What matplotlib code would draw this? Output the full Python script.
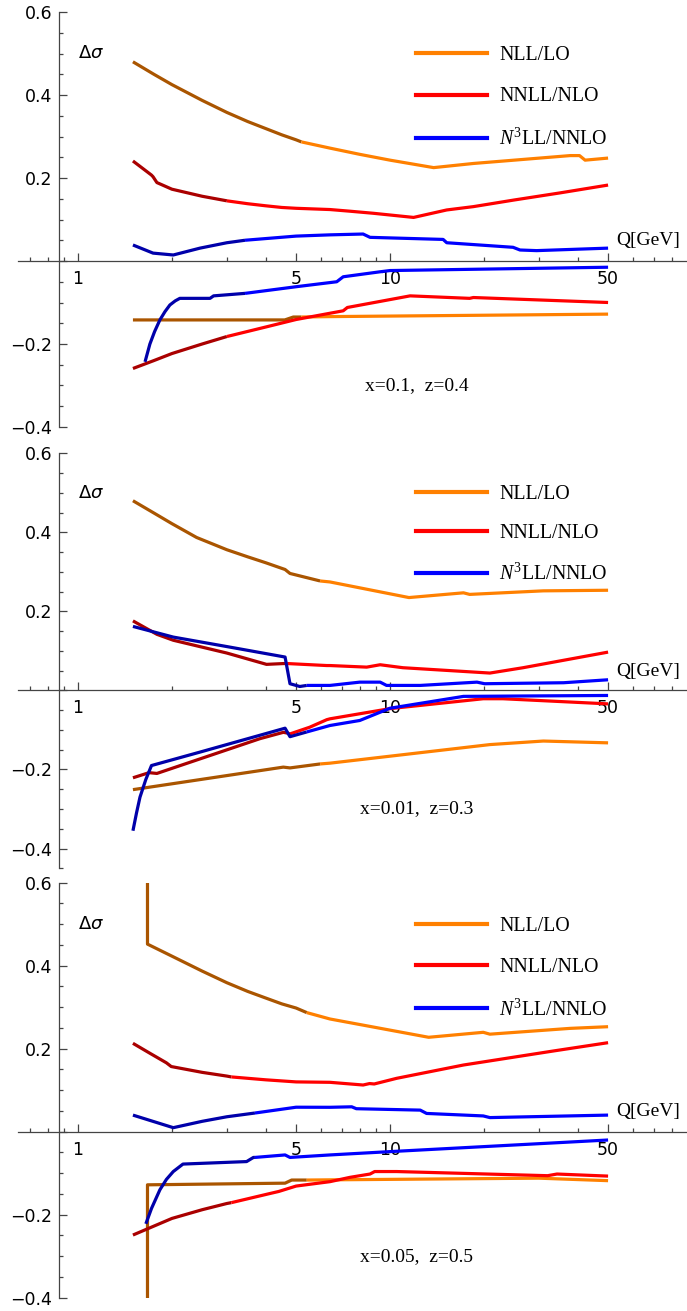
import numpy as np
import matplotlib
matplotlib.use('Agg')
import matplotlib.pyplot as plt
from matplotlib.ticker import FixedLocator, FuncFormatter, NullFormatter
from matplotlib.lines import Line2D

# ---------------- data ----------------
# Panel 1 : x=0.1, z=0.4
Q1_NLL_UP = [1.5, 1.75, 2, 2.5, 3, 3.5, 4, 4.5, 5, 5.2, 6.42, 8, 10, 13.8, 18.5, 25, 37.8, 40.5, 42.2, 50]
V1_NLL_UP = [.480, .450, .425, .387, .358, .336, .319, .304, .292, .287, .272, .257, .243, .225, .235, .243, .254, .254, .243, .248]
Q1_NLL_LO = [1.5, 4.6, 4.9, 5.2, 6.42, 50]
V1_NLL_LO = [-.142, -.142, -.135, -.135, -.134, -.128]
Q1_NNLL_UP = [1.5, 1.72, 1.74, 1.79, 2, 2.5, 3, 3.5, 4, 4.5, 5, 6.42, 7.44, 8.84, 11.9, 15.2, 18.5, 25, 35, 50]
V1_NNLL_UP = [.241, .207, .203, .189, .173, .156, .145, .138, .133, .129, .127, .124, .120, .115, .105, .123, .131, .147, .164, .183]
Q1_NNLL_LO = [1.5, 1.75, 2, 2.5, 3, 4, 5, 7.08, 7.3, 11.6, 18.0, 18.5, 50]
V1_NNLL_LO = [-.259, -.240, -.223, -.200, -.182, -.159, -.141, -.120, -.112, -.084, -.090, -.088, -.100]
Q1_N3LL_UP = [1.5, 1.74, 2.02, 2.46, 3, 3.43, 5, 6.42, 8.2, 8.63, 14.8, 15.2, 24.8, 26.1, 29.5, 50]
V1_N3LL_UP = [.0386, .019, .0145, .031, .044, .050, .060, .063, .065, .057, .052, .044, .033, .0265, .025, .031]
Q1_N3LL_LO = [1.64, 1.7, 1.76, 1.83, 1.9, 1.97, 2.05, 2.12, 2.65, 2.72, 3.43, 5, 6.75, 7.08, 9.29, 10, 50]
V1_N3LL_LO = [-.243, -.200, -.170, -.142, -.122, -.106, -.096, -.090, -.090, -.084, -.078, -.062, -.050, -.038, -.026, -.023, -.015]

# Panel 2 : x=0.01, z=0.3
Q2_NLL_UP = [1.5, 1.75, 2, 2.4, 3, 3.5, 4, 4.61, 4.78, 5.97, 6.42, 11.5, 17.2, 18.0, 31, 50]
V2_NLL_UP = [.480, .449, .422, .387, .356, .338, .323, .306, .296, .277, .2745, .235, .247, .243, .252, .2535]
Q2_NLL_LO = [1.5, 4.55, 4.78, 5.97, 6.42, 20.9, 31, 50]
V2_NLL_LO = [-.251, -.194, -.196, -.186, -.184, -.137, -.128, -.1326]
Q2_NNLL_UP = [1.5, 1.79, 2.02, 3, 4.02, 4.55, 4.7, 6.27, 6.42, 8.42, 9.3, 11.0, 20.9, 26.7, 50]
V2_NNLL_UP = [.176, .142, .127, .0946, .066, .068, .068, .063, .063, .059, .065, .0575, .044, .0575, .097]
Q2_NNLL_LO = [1.5, 1.69, 1.79, 3.83, 4.55, 4.7, 4.78, 5.53, 6.27, 6.42, 10, 19.9, 23, 50]
V2_NNLL_LO = [-.221, -.208, -.210, -.122, -.106, -.108, -.110, -.093, -.074, -.0718, -.046, -.021, -.021, -.034]
Q2_N3LL_UP = [1.5, 2.02, 3, 4.61, 4.78, 5.14, 5.41, 6.42, 8.0, 9.3, 9.75, 12.5, 19.0, 20.1, 36, 50]
V2_N3LL_UP = [.162, .135, .111, .0845, .017, .010, .0127, .0127, .021, .021, .0127, .0127, .021, .017, .0195, .027]
Q2_N3LL_LO = [1.5, 1.54, 1.58, 1.65, 1.72, 2.46, 4.61, 4.78, 5.41, 6.42, 8.0, 10, 17.2, 50]
V2_N3LL_LO = [-.355, -.310, -.270, -.225, -.190, -.156, -.0955, -.117, -.105, -.0887, -.076, -.045, -.015, -.0127]

# Panel 3 : x=0.05, z=0.5
Q3_NLL_UP = [1.67, 1.67, 2, 2.5, 3, 3.5, 4, 4.5, 5, 5.41, 6.42, 13.3, 19.9, 20.9, 37.8, 50]
V3_NLL_UP = [1.0, .452, .423, .387, .359, .338, .322, .308, .298, .287, .2716, .2275, .2395, .235, .249, .253]
Q3_NLL_LO = [1.67, 1.67, 4.61, 4.84, 5.41, 6.42, 30, 50]
V3_NLL_LO = [-1.0, -.128, -.124, -.1165, -.1165, -.116, -.112, -.118]
Q3_NNLL_UP = [1.5, 1.7, 1.92, 1.99, 2.5, 3, 3.1, 4, 5, 6.42, 8.2, 8.6, 8.9, 10.5, 17.2, 33.4, 50]
V3_NNLL_UP = [.213, .189, .166, .157, .143, .134, .132, .125, .120, .119, .1125, .116, .115, .1286, .1607, .1945, .2145]
Q3_NNLL_LO = [1.5, 2, 2.5, 3, 3.1, 4.12, 4.4, 5, 6.42, 7.44, 8.63, 8.93, 10.5, 32, 34.3, 50]
V3_NNLL_LO = [-.249, -.209, -.188, -.173, -.171, -.149, -.144, -.131, -.1204, -.110, -.102, -.096, -.096, -.106, -.102, -.107]
Q3_N3LL_UP = [1.5, 2.02, 2.5, 3, 3.69, 5, 6.42, 7.54, 7.8, 12.5, 13.1, 19.9, 20.9, 50]
V3_N3LL_UP = [.040, .0097, .025, .036, .045, .059, .0588, .060, .0554, .052, .044, .038, .034, .040]
Q3_N3LL_LO = [1.65, 1.72, 1.83, 1.92, 2.02, 2.17, 3.47, 3.65, 3.69, 4.61, 4.78, 6.42, 10, 50]
V3_N3LL_LO = [-.222, -.185, -.140, -.115, -.096, -.078, -.072, -.062, -.062, -.056, -.062, -.056, -.048, -.020]

# Q where each curve switches from its dark to its bright shade
SPLIT_1 = [5.2, 3.0, 3.43]
SPLIT_2 = [5.97, 4.7, 5.41]
SPLIT_3 = [5.41, 3.1, 3.69]

LABELS = ["NLL/LO", "NNLL/NLO", r"$N^3$LL/NNLO"]
PANEL_TEXT = ["x=0.1,  z=0.4", "x=0.01,  z=0.3", "x=0.05,  z=0.5"]
X_MAJOR = [1, 5, 10, 50]
X_MINOR = [0.7, 0.8, 0.9, 2, 3, 4, 6, 7, 8, 9, 20, 30, 40, 60, 70, 80]
Y_MAJOR = [-0.4, -0.2, 0.0, 0.2, 0.4, 0.6]

# ---------------- styling ----------------
BRIGHT = ['#FF8000', '#FF0000', '#0000FF']
DARK = ['#AA5500', '#AA0000', '#0000AA']
AXC = '#444444'
LW = 2.3

plt.rcParams['mathtext.fontset'] = 'custom'
plt.rcParams['mathtext.rm'] = 'Liberation Serif'
plt.rcParams['mathtext.it'] = 'Liberation Serif:italic'

W, H = 687, 1311
fig = plt.figure(figsize=(W / 100, H / 100), dpi=100)

XPIX0, XPIX1 = 18, 687
def q_of_px(px):
    return 10 ** ((px - 78) / 312.0)
XMIN, XMAX = q_of_px(XPIX0), q_of_px(XPIX1)
YAXIS_Q = q_of_px(59)


def split_at(q, v, t):
    q = np.asarray(q, float)
    v = np.asarray(v, float)
    if not np.any(np.isclose(q, t)):
        vt = np.interp(np.log10(t), np.log10(q), v)
        i = np.searchsorted(q, t)
        q = np.insert(q, i, t)
        v = np.insert(v, i, vt)
    d = q <= t + 1e-9
    b = q >= t - 1e-9
    return (q[d], v[d]), (q[b], v[b])


def setup(ax, ymin):
    ax.set_xscale('log')
    ax.set_xlim(XMIN, XMAX)
    ax.set_ylim(ymin, 0.6)
    ax.patch.set_alpha(0)
    for s in ('top', 'right'):
        ax.spines[s].set_visible(False)
    ax.spines['left'].set_position(('data', YAXIS_Q))
    ax.spines['bottom'].set_position(('data', 0))
    for s in ('left', 'bottom'):
        ax.spines[s].set_color(AXC)
        ax.spines[s].set_linewidth(0.9)
    ax.xaxis.set_major_locator(FixedLocator(X_MAJOR))
    ax.xaxis.set_minor_locator(FixedLocator(X_MINOR))
    ax.xaxis.set_major_formatter(FuncFormatter(lambda x, p: f'{x:g}'))
    ax.xaxis.set_minor_formatter(NullFormatter())
    ax.yaxis.set_major_locator(FixedLocator(Y_MAJOR))
    steps = np.round(np.arange(ymin, 0.6001, 0.05), 3)
    minor = [t for t in steps if min(abs(t - m) for m in Y_MAJOR) > 1e-6]
    ax.yaxis.set_minor_locator(FixedLocator(minor))
    ax.yaxis.set_major_formatter(FuncFormatter(
        lambda y, p: '' if abs(y) < 1e-9 else f'{y:.1f}'.replace('-', '\u2212')))
    ax.tick_params(which='both', direction='in', color=AXC, width=0.9,
                   labelsize=12.5, labelcolor='black')
    ax.tick_params(axis='x', which='major', length=5.5, pad=6.5)
    ax.tick_params(axis='x', which='minor', length=2.7)
    ax.tick_params(axis='y', which='major', length=5.5, pad=5)
    ax.tick_params(axis='y', which='minor', length=3.0)
    for lab in ax.get_xticklabels() + ax.get_yticklabels():
        lab.set_fontfamily('DejaVu Sans')


panels = [
    (-0.4, SPLIT_1, [(Q1_NLL_UP, V1_NLL_UP, Q1_NLL_LO, V1_NLL_LO),
                     (Q1_NNLL_UP, V1_NNLL_UP, Q1_NNLL_LO, V1_NNLL_LO),
                     (Q1_N3LL_UP, V1_N3LL_UP, Q1_N3LL_LO, V1_N3LL_LO)]),
    (-0.45, SPLIT_2, [(Q2_NLL_UP, V2_NLL_UP, Q2_NLL_LO, V2_NLL_LO),
                      (Q2_NNLL_UP, V2_NNLL_UP, Q2_NNLL_LO, V2_NNLL_LO),
                      (Q2_N3LL_UP, V2_N3LL_UP, Q2_N3LL_LO, V2_N3LL_LO)]),
    (-0.4, SPLIT_3, [(Q3_NLL_UP, V3_NLL_UP, Q3_NLL_LO, V3_NLL_LO),
                     (Q3_NNLL_UP, V3_NNLL_UP, Q3_NNLL_LO, V3_NNLL_LO),
                     (Q3_N3LL_UP, V3_N3LL_UP, Q3_N3LL_LO, V3_N3LL_LO)]),
]
tops_px = [12, 453.3, 882.7]
height_px = 415
leg_anchor = [0.917, 0.923, 0.917]
leg_spacing = [1.11, 1.01, 1.11]

for k, (ymin, splits, series) in enumerate(panels):
    top = tops_px[k]
    ax = fig.add_axes([XPIX0 / W, 1 - (top + height_px) / H,
                       (XPIX1 - XPIX0) / W, height_px / H])
    setup(ax, ymin)
    for i, (qu, vu, ql, vl) in enumerate(series):
        for q, v in ((qu, vu), (ql, vl)):
            (qd, vd), (qb, vb) = split_at(q, v, splits[i])
            ax.plot(qd, vd, color=DARK[i], lw=LW, solid_capstyle='butt',
                    solid_joinstyle='round', zorder=3 + i)
            ax.plot(qb, vb, color=BRIGHT[i], lw=LW, solid_capstyle='butt',
                    solid_joinstyle='round', zorder=3 + i)
    handles = [Line2D([], [], color=BRIGHT[i], lw=3.0) for i in range(3)]
    ax.legend(handles, LABELS, loc='upper left', bbox_to_anchor=(0.5945, leg_anchor[k]),
              frameon=False, borderpad=0, borderaxespad=0,
              handlelength=3.6, handletextpad=0.6, labelspacing=leg_spacing[k],
              prop={'family': 'Liberation Serif', 'size': 14.3})
    ax.text(1.0, 0.5, r'$\Delta\sigma$', math_fontfamily='dejavusans',
            fontsize=13, ha='left', va='center')
    ax.text(q_of_px(616), 0.049, 'Q[GeV]', family='Liberation Serif',
            fontsize=14, ha='left', va='center')
    ax.text(q_of_px(417), -0.30, PANEL_TEXT[k], family='Liberation Serif',
            fontsize=14, ha='center', va='center')

fig.savefig('out.png', dpi=100)
